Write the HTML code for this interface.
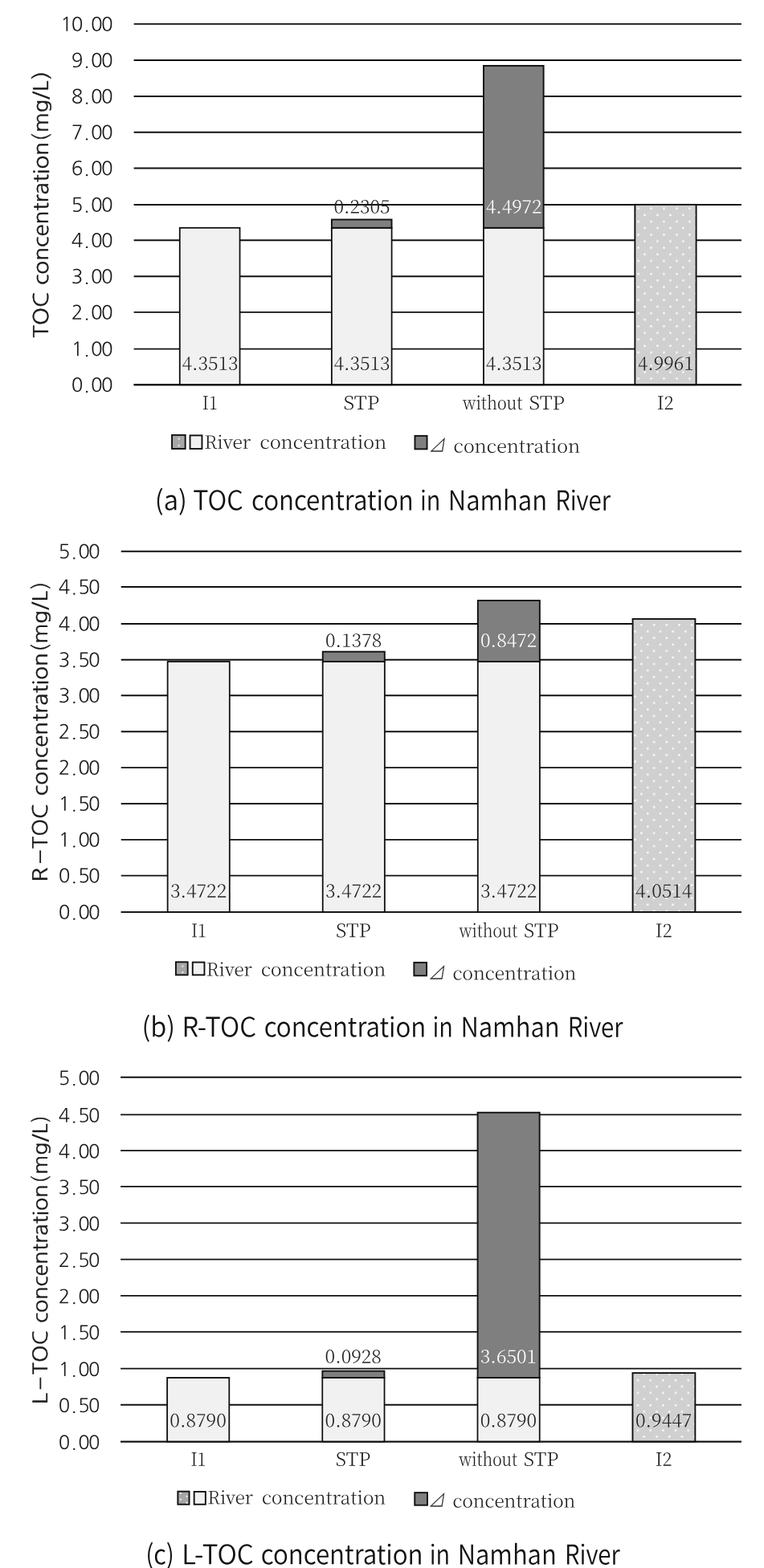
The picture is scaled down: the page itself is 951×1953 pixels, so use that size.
<!DOCTYPE html>
<html lang="en"><head><meta charset="utf-8"><title>TOC concentration in Namhan River</title>
<style>html,body{margin:0;padding:0;background:#fff}svg{display:block}text{white-space:pre;text-rendering:geometricPrecision}</style></head>
<body><svg width="951" height="1953" viewBox="0 0 951 1953">
<rect width="951" height="1953" fill="#fff"/>
<defs>
<pattern id="dotsa" patternUnits="userSpaceOnUse" x="793.25" y="258.35" width="15.95" height="16.3"><rect x="0" y="0" width="15.95" height="16.3" fill="#d0d0d0"/><rect x="0.2" y="0.2" width="2.3" height="2.3" fill="#fff"/><rect x="8.17" y="8.35" width="2.3" height="2.3" fill="#fff"/></pattern>
<pattern id="dotsb" patternUnits="userSpaceOnUse" x="797.05" y="777.05" width="15.7" height="16.2"><rect x="0" y="0" width="15.7" height="16.2" fill="#d0d0d0"/><rect x="0.2" y="0.2" width="2.3" height="2.3" fill="#fff"/><rect x="8.05" y="8.30" width="2.3" height="2.3" fill="#fff"/></pattern>
<pattern id="dotsc" patternUnits="userSpaceOnUse" x="792.65" y="1717.85" width="15.7" height="15.6"><rect x="0" y="0" width="15.7" height="15.6" fill="#d0d0d0"/><rect x="0.2" y="0.2" width="2.3" height="2.3" fill="#fff"/><rect x="8.05" y="8.00" width="2.3" height="2.3" fill="#fff"/></pattern>
</defs>
<g id="chart-a">
<line x1="166.60" x2="922.90" y1="29.90" y2="29.90" stroke="#101010" stroke-width="1.9"/>
<text transform="rotate(0.05 139.4 38.70)" x="75.30 88.65 104.35 113.00 125.90" y="38.70" font-family="NanumGothic, 'Liberation Sans', sans-serif" font-size="24.2" fill="#1a1a1a">10.00</text>
<line x1="166.60" x2="922.90" y1="75.00" y2="75.00" stroke="#101010" stroke-width="1.9"/>
<text transform="rotate(0.05 139.4 83.80)" x="88.65 104.35 113.00 125.90" y="83.80" font-family="NanumGothic, 'Liberation Sans', sans-serif" font-size="24.2" fill="#1a1a1a">9.00</text>
<line x1="166.60" x2="922.90" y1="120.00" y2="120.00" stroke="#101010" stroke-width="1.9"/>
<text transform="rotate(0.05 139.4 128.80)" x="88.65 104.35 113.00 125.90" y="128.80" font-family="NanumGothic, 'Liberation Sans', sans-serif" font-size="24.2" fill="#1a1a1a">8.00</text>
<line x1="166.60" x2="922.90" y1="164.80" y2="164.80" stroke="#101010" stroke-width="1.9"/>
<text transform="rotate(0.05 139.4 173.60)" x="88.65 104.35 113.00 125.90" y="173.60" font-family="NanumGothic, 'Liberation Sans', sans-serif" font-size="24.2" fill="#1a1a1a">7.00</text>
<line x1="166.60" x2="922.90" y1="209.50" y2="209.50" stroke="#101010" stroke-width="1.9"/>
<text transform="rotate(0.05 139.4 218.30)" x="88.65 104.35 113.00 125.90" y="218.30" font-family="NanumGothic, 'Liberation Sans', sans-serif" font-size="24.2" fill="#1a1a1a">6.00</text>
<line x1="166.60" x2="922.90" y1="255.00" y2="255.00" stroke="#101010" stroke-width="1.9"/>
<text transform="rotate(0.05 139.4 263.80)" x="88.65 104.35 113.00 125.90" y="263.80" font-family="NanumGothic, 'Liberation Sans', sans-serif" font-size="24.2" fill="#1a1a1a">5.00</text>
<line x1="166.60" x2="922.90" y1="299.20" y2="299.20" stroke="#101010" stroke-width="1.9"/>
<text transform="rotate(0.05 139.4 308.00)" x="88.65 104.35 113.00 125.90" y="308.00" font-family="NanumGothic, 'Liberation Sans', sans-serif" font-size="24.2" fill="#1a1a1a">4.00</text>
<line x1="166.60" x2="922.90" y1="344.20" y2="344.20" stroke="#101010" stroke-width="1.9"/>
<text transform="rotate(0.05 139.4 353.00)" x="88.65 104.35 113.00 125.90" y="353.00" font-family="NanumGothic, 'Liberation Sans', sans-serif" font-size="24.2" fill="#1a1a1a">3.00</text>
<line x1="166.60" x2="922.90" y1="388.90" y2="388.90" stroke="#101010" stroke-width="1.9"/>
<text transform="rotate(0.05 139.4 397.70)" x="88.65 104.35 113.00 125.90" y="397.70" font-family="NanumGothic, 'Liberation Sans', sans-serif" font-size="24.2" fill="#1a1a1a">2.00</text>
<line x1="166.60" x2="922.90" y1="434.60" y2="434.60" stroke="#101010" stroke-width="1.9"/>
<text transform="rotate(0.05 139.4 443.40)" x="88.65 104.35 113.00 125.90" y="443.40" font-family="NanumGothic, 'Liberation Sans', sans-serif" font-size="24.2" fill="#1a1a1a">1.00</text>
<line x1="166.60" x2="922.90" y1="479.20" y2="479.20" stroke="#101010" stroke-width="1.9"/>
<text transform="rotate(0.05 139.4 488.00)" x="88.65 104.35 113.00 125.90" y="488.00" font-family="NanumGothic, 'Liberation Sans', sans-serif" font-size="24.2" fill="#1a1a1a">0.00</text>
<rect x="223.82" y="283.83" width="74.63" height="195.37" fill="#f1f1f1" stroke="#101010" stroke-width="1.9"/>
<rect x="225.32" y="285.33" width="71.63" height="192.37" fill="none" stroke="#fff" stroke-opacity="0.6" stroke-width="1"/>
<text transform="rotate(0.05 261.1 460.8)" x="226.54" y="460.80" font-family="'Noto Serif CJK SC', 'Liberation Serif', serif" font-weight="300" font-size="23" fill="#222" textLength="69.91" lengthAdjust="spacingAndGlyphs">4.3513</text>
<rect x="412.90" y="283.83" width="74.63" height="195.37" fill="#f1f1f1" stroke="#101010" stroke-width="1.9"/>
<rect x="414.40" y="285.33" width="71.63" height="192.37" fill="none" stroke="#fff" stroke-opacity="0.6" stroke-width="1"/>
<rect x="412.90" y="273.48" width="74.63" height="10.35" fill="#7f7f7f" stroke="#101010" stroke-width="1.9"/>
<text transform="rotate(0.05 450.2 265.4)" x="415.61" y="265.43" font-family="'Noto Serif CJK SC', 'Liberation Serif', serif" font-weight="300" font-size="23" fill="#222" textLength="69.91" lengthAdjust="spacingAndGlyphs">0.2305</text>
<text transform="rotate(0.05 450.2 460.8)" x="415.61" y="460.80" font-family="'Noto Serif CJK SC', 'Liberation Serif', serif" font-weight="300" font-size="23" fill="#222" textLength="69.91" lengthAdjust="spacingAndGlyphs">4.3513</text>
<rect x="601.97" y="283.83" width="74.63" height="195.37" fill="#f1f1f1" stroke="#101010" stroke-width="1.9"/>
<rect x="603.47" y="285.33" width="71.63" height="192.37" fill="none" stroke="#fff" stroke-opacity="0.6" stroke-width="1"/>
<rect x="601.97" y="81.90" width="74.63" height="201.92" fill="#7f7f7f" stroke="#101010" stroke-width="1.9"/>
<text transform="rotate(0.05 639.3 265.4)" x="604.69" y="265.43" font-family="'Noto Serif CJK SC', 'Liberation Serif', serif" font-weight="300" font-size="23" fill="#ffffff" textLength="69.91" lengthAdjust="spacingAndGlyphs">4.4972</text>
<text transform="rotate(0.05 639.3 460.8)" x="604.69" y="460.80" font-family="'Noto Serif CJK SC', 'Liberation Serif', serif" font-weight="300" font-size="23" fill="#222" textLength="69.91" lengthAdjust="spacingAndGlyphs">4.3513</text>
<rect x="790.35" y="254.88" width="76.23" height="224.32" fill="url(#dotsa)" stroke="#101010" stroke-width="1.9"/>
<text transform="rotate(0.05 828.4 460.8)" x="793.76" y="460.80" font-family="'Noto Serif CJK SC', 'Liberation Serif', serif" font-weight="300" font-size="23" fill="#222" textLength="69.91" lengthAdjust="spacingAndGlyphs">4.9961</text>
<line x1="166.60" x2="922.90" y1="479.20" y2="479.20" stroke="#101010" stroke-width="1.9"/>
<text transform="rotate(0.05 261.1 510.1)" y="510.10" font-family="'Noto Serif CJK SC', 'Liberation Serif', serif" font-weight="300" font-size="23" fill="#1a1a1a"><tspan x="251.85" textLength="19.15" lengthAdjust="spacingAndGlyphs">I1</tspan></text>
<text transform="rotate(0.05 450.2 510.1)" y="510.10" font-family="'Noto Serif CJK SC', 'Liberation Serif', serif" font-weight="300" font-size="23" fill="#1a1a1a"><tspan x="427.45" textLength="44.71" lengthAdjust="spacingAndGlyphs">STP</tspan></text>
<text transform="rotate(0.05 639.3 510.1)" y="510.10" font-family="'Noto Serif CJK SC', 'Liberation Serif', serif" font-weight="300" font-size="23" fill="#1a1a1a"><tspan x="576.04" textLength="74.30" lengthAdjust="spacingAndGlyphs">without</tspan> <tspan x="658.40" textLength="44.38" lengthAdjust="spacingAndGlyphs">STP</tspan></text>
<text transform="rotate(0.05 828.4 510.1)" y="510.10" font-family="'Noto Serif CJK SC', 'Liberation Serif', serif" font-weight="300" font-size="23" fill="#1a1a1a"><tspan x="817.64" textLength="21.11" lengthAdjust="spacingAndGlyphs">I2</tspan></text>
<text transform="translate(60.10,420.80) rotate(-90)" y="0" font-family="NanumGothic, 'Liberation Sans', sans-serif" font-weight="400" font-size="25.5" fill="#1a1a1a" stroke="#1a1a1a" stroke-width="0.35"><tspan x="0.00" textLength="56.94" lengthAdjust="spacingAndGlyphs">TOC</tspan> <tspan x="65.71" textLength="178.23" lengthAdjust="spacingAndGlyphs">concentration</tspan><tspan x="244.75" textLength="9.73" lengthAdjust="spacingAndGlyphs">(</tspan><tspan x="255.87" textLength="64.31" lengthAdjust="spacingAndGlyphs">mg/L</tspan><tspan x="321.78" textLength="10.35" lengthAdjust="spacingAndGlyphs">)</tspan></text>
<rect x="214.05" y="541.85" width="16.60" height="17.10" fill="#a6a6a6" stroke="#101010" stroke-width="1.9"/>
<rect x="221.75" y="545.55" width="1.9" height="1.9" fill="#f6f6f6"/>
<rect x="221.75" y="553.75" width="1.9" height="1.9" fill="#f6f6f6"/>
<rect x="236.55" y="542.35" width="14.90" height="16.60" fill="#f1f1f1" stroke="#101010" stroke-width="1.9"/>
<text transform="rotate(0.05 367.8 558.8)" y="558.80" font-family="'Noto Serif CJK SC', 'Liberation Serif', serif" font-weight="300" font-size="22.5" fill="#1a1a1a"><tspan x="254.19" textLength="57.97" lengthAdjust="spacingAndGlyphs">River</tspan> <tspan x="323.57" textLength="157.70" lengthAdjust="spacingAndGlyphs">concentration</tspan></text>
<rect x="516.45" y="542.85" width="15.10" height="16.50" fill="#7f7f7f" stroke="#101010" stroke-width="1.9"/>
<text transform="translate(533.20,563.10) skewX(-9) scale(0.9,1)" x="0" y="0" font-family="'Noto Serif CJK SC', 'Liberation Serif', serif" font-weight="300" font-size="22.8" fill="#1a1a1a" stroke="#1a1a1a" stroke-width="0.3">⊿</text>
<text transform="rotate(0.05 643.5 563.7)" y="563.70" font-family="'Noto Serif CJK SC', 'Liberation Serif', serif" font-weight="300" font-size="22.5" fill="#1a1a1a"><tspan x="564.57" textLength="157.60" lengthAdjust="spacingAndGlyphs">concentration</tspan></text>
<text transform="rotate(0.05 478.0 635.4)" y="635.40" font-family="'Noto Sans CJK KR', 'Liberation Sans', sans-serif" font-weight="350" font-size="33.7" fill="#111"><tspan x="192.78" textLength="40.05" lengthAdjust="spacingAndGlyphs">(a)</tspan> <tspan x="240.24" textLength="62.42" lengthAdjust="spacingAndGlyphs">TOC</tspan> <tspan x="313.07" textLength="201.65" lengthAdjust="spacingAndGlyphs">concentration</tspan> <tspan x="522.98" textLength="25.33" lengthAdjust="spacingAndGlyphs">in</tspan> <tspan x="557.83" textLength="123.12" lengthAdjust="spacingAndGlyphs">Namhan</tspan> <tspan x="691.17" textLength="68.71" lengthAdjust="spacingAndGlyphs">River</tspan></text>
</g>
<g id="chart-b">
<line x1="150.70" x2="922.90" y1="686.80" y2="686.80" stroke="#101010" stroke-width="1.9"/>
<text transform="rotate(0.05 123.6 695.60)" x="72.85 88.55 97.20 110.10" y="695.60" font-family="NanumGothic, 'Liberation Sans', sans-serif" font-size="24.2" fill="#1a1a1a">5.00</text>
<line x1="150.70" x2="922.90" y1="731.00" y2="731.00" stroke="#101010" stroke-width="1.9"/>
<text transform="rotate(0.05 123.6 739.80)" x="72.85 88.55 97.20 110.10" y="739.80" font-family="NanumGothic, 'Liberation Sans', sans-serif" font-size="24.2" fill="#1a1a1a">4.50</text>
<line x1="150.70" x2="922.90" y1="776.95" y2="776.95" stroke="#101010" stroke-width="1.9"/>
<text transform="rotate(0.05 123.6 785.75)" x="72.85 88.55 97.20 110.10" y="785.75" font-family="NanumGothic, 'Liberation Sans', sans-serif" font-size="24.2" fill="#1a1a1a">4.00</text>
<line x1="150.70" x2="922.90" y1="821.80" y2="821.80" stroke="#101010" stroke-width="1.9"/>
<text transform="rotate(0.05 123.6 830.60)" x="72.85 88.55 97.20 110.10" y="830.60" font-family="NanumGothic, 'Liberation Sans', sans-serif" font-size="24.2" fill="#1a1a1a">3.50</text>
<line x1="150.70" x2="922.90" y1="866.30" y2="866.30" stroke="#101010" stroke-width="1.9"/>
<text transform="rotate(0.05 123.6 875.10)" x="72.85 88.55 97.20 110.10" y="875.10" font-family="NanumGothic, 'Liberation Sans', sans-serif" font-size="24.2" fill="#1a1a1a">3.00</text>
<line x1="150.70" x2="922.90" y1="911.20" y2="911.20" stroke="#101010" stroke-width="1.9"/>
<text transform="rotate(0.05 123.6 920.00)" x="72.85 88.55 97.20 110.10" y="920.00" font-family="NanumGothic, 'Liberation Sans', sans-serif" font-size="24.2" fill="#1a1a1a">2.50</text>
<line x1="150.70" x2="922.90" y1="956.10" y2="956.10" stroke="#101010" stroke-width="1.9"/>
<text transform="rotate(0.05 123.6 964.90)" x="72.85 88.55 97.20 110.10" y="964.90" font-family="NanumGothic, 'Liberation Sans', sans-serif" font-size="24.2" fill="#1a1a1a">2.00</text>
<line x1="150.70" x2="922.90" y1="1001.00" y2="1001.00" stroke="#101010" stroke-width="1.9"/>
<text transform="rotate(0.05 123.6 1009.80)" x="72.85 88.55 97.20 110.10" y="1009.80" font-family="NanumGothic, 'Liberation Sans', sans-serif" font-size="24.2" fill="#1a1a1a">1.50</text>
<line x1="150.70" x2="922.90" y1="1045.85" y2="1045.85" stroke="#101010" stroke-width="1.9"/>
<text transform="rotate(0.05 123.6 1054.65)" x="72.85 88.55 97.20 110.10" y="1054.65" font-family="NanumGothic, 'Liberation Sans', sans-serif" font-size="24.2" fill="#1a1a1a">1.00</text>
<line x1="150.70" x2="922.90" y1="1090.60" y2="1090.60" stroke="#101010" stroke-width="1.9"/>
<text transform="rotate(0.05 123.6 1099.40)" x="72.85 88.55 97.20 110.10" y="1099.40" font-family="NanumGothic, 'Liberation Sans', sans-serif" font-size="24.2" fill="#1a1a1a">0.50</text>
<line x1="150.70" x2="922.90" y1="1136.10" y2="1136.10" stroke="#101010" stroke-width="1.9"/>
<text transform="rotate(0.05 123.6 1144.90)" x="72.85 88.55 97.20 110.10" y="1144.90" font-family="NanumGothic, 'Liberation Sans', sans-serif" font-size="24.2" fill="#1a1a1a">0.00</text>
<rect x="208.71" y="824.09" width="77.02" height="312.01" fill="#f1f1f1" stroke="#101010" stroke-width="1.9"/>
<rect x="210.21" y="825.59" width="74.02" height="309.01" fill="none" stroke="#fff" stroke-opacity="0.6" stroke-width="1"/>
<text transform="rotate(0.05 247.2 1117.7)" x="211.97" y="1117.70" font-family="'Noto Serif CJK SC', 'Liberation Serif', serif" font-weight="300" font-size="23" fill="#222" textLength="70.22" lengthAdjust="spacingAndGlyphs">3.4722</text>
<rect x="401.77" y="824.09" width="77.02" height="312.01" fill="#f1f1f1" stroke="#101010" stroke-width="1.9"/>
<rect x="403.27" y="825.59" width="74.02" height="309.01" fill="none" stroke="#fff" stroke-opacity="0.6" stroke-width="1"/>
<rect x="401.77" y="811.71" width="77.02" height="12.38" fill="#7f7f7f" stroke="#101010" stroke-width="1.9"/>
<text transform="rotate(0.05 440.3 805.7)" x="405.02" y="805.69" font-family="'Noto Serif CJK SC', 'Liberation Serif', serif" font-weight="300" font-size="23" fill="#222" textLength="70.22" lengthAdjust="spacingAndGlyphs">0.1378</text>
<text transform="rotate(0.05 440.3 1117.7)" x="405.02" y="1117.70" font-family="'Noto Serif CJK SC', 'Liberation Serif', serif" font-weight="300" font-size="23" fill="#222" textLength="70.22" lengthAdjust="spacingAndGlyphs">3.4722</text>
<rect x="594.82" y="824.09" width="77.02" height="312.01" fill="#f1f1f1" stroke="#101010" stroke-width="1.9"/>
<rect x="596.32" y="825.59" width="74.02" height="309.01" fill="none" stroke="#fff" stroke-opacity="0.6" stroke-width="1"/>
<rect x="594.82" y="747.96" width="77.02" height="76.13" fill="#7f7f7f" stroke="#101010" stroke-width="1.9"/>
<text transform="rotate(0.05 633.3 805.7)" x="598.07" y="805.69" font-family="'Noto Serif CJK SC', 'Liberation Serif', serif" font-weight="300" font-size="23" fill="#ffffff" textLength="70.22" lengthAdjust="spacingAndGlyphs">0.8472</text>
<text transform="rotate(0.05 633.3 1117.7)" x="598.07" y="1117.70" font-family="'Noto Serif CJK SC', 'Liberation Serif', serif" font-weight="300" font-size="23" fill="#222" textLength="70.22" lengthAdjust="spacingAndGlyphs">3.4722</text>
<rect x="787.57" y="770.94" width="77.82" height="365.16" fill="url(#dotsb)" stroke="#101010" stroke-width="1.9"/>
<text transform="rotate(0.05 826.4 1117.7)" x="791.12" y="1117.70" font-family="'Noto Serif CJK SC', 'Liberation Serif', serif" font-weight="300" font-size="23" fill="#222" textLength="70.22" lengthAdjust="spacingAndGlyphs">4.0514</text>
<line x1="150.70" x2="922.90" y1="1136.10" y2="1136.10" stroke="#101010" stroke-width="1.9"/>
<text transform="rotate(0.05 247.2 1167.3)" y="1167.30" font-family="'Noto Serif CJK SC', 'Liberation Serif', serif" font-weight="300" font-size="23" fill="#1a1a1a"><tspan x="237.94" textLength="19.15" lengthAdjust="spacingAndGlyphs">I1</tspan></text>
<text transform="rotate(0.05 440.3 1167.3)" y="1167.30" font-family="'Noto Serif CJK SC', 'Liberation Serif', serif" font-weight="300" font-size="23" fill="#1a1a1a"><tspan x="418.04" textLength="43.68" lengthAdjust="spacingAndGlyphs">STP</tspan></text>
<text transform="rotate(0.05 633.3 1167.3)" y="1167.30" font-family="'Noto Serif CJK SC', 'Liberation Serif', serif" font-weight="300" font-size="23" fill="#1a1a1a"><tspan x="571.43" textLength="72.72" lengthAdjust="spacingAndGlyphs">without</tspan> <tspan x="652.03" textLength="43.44" lengthAdjust="spacingAndGlyphs">STP</tspan></text>
<text transform="rotate(0.05 826.4 1167.3)" y="1167.30" font-family="'Noto Serif CJK SC', 'Liberation Serif', serif" font-weight="300" font-size="23" fill="#1a1a1a"><tspan x="815.76" textLength="20.90" lengthAdjust="spacingAndGlyphs">I2</tspan></text>
<text transform="translate(59.00,1096.30) rotate(-90)" y="0" font-family="NanumGothic, 'Liberation Sans', sans-serif" font-weight="400" font-size="25.5" fill="#1a1a1a" stroke="#1a1a1a" stroke-width="0.35"><tspan x="-2.34" textLength="18.56" lengthAdjust="spacingAndGlyphs">R</tspan><tspan x="18.16" textLength="21.71" lengthAdjust="spacingAndGlyphs" dy="0.5" stroke="none">-</tspan><tspan x="39.30" textLength="55.71" lengthAdjust="spacingAndGlyphs" dy="-0.5">TOC</tspan> <tspan x="105.01" textLength="178.12" lengthAdjust="spacingAndGlyphs">concentration</tspan><tspan x="284.60" textLength="9.27" lengthAdjust="spacingAndGlyphs">(</tspan><tspan x="294.53" textLength="65.64" lengthAdjust="spacingAndGlyphs">mg/L</tspan><tspan x="362.33" textLength="8.96" lengthAdjust="spacingAndGlyphs">)</tspan></text>
<rect x="218.90" y="1198.25" width="14.75" height="16.10" fill="#a6a6a6" stroke="#101010" stroke-width="1.9"/>
<rect x="226.45" y="1202.55" width="1.9" height="1.9" fill="#f6f6f6"/>
<rect x="226.45" y="1210.15" width="1.9" height="1.9" fill="#f6f6f6"/>
<rect x="239.75" y="1198.55" width="14.70" height="15.80" fill="#f1f1f1" stroke="#101010" stroke-width="1.9"/>
<text transform="rotate(0.05 368.5 1215.5)" y="1215.50" font-family="'Noto Serif CJK SC', 'Liberation Serif', serif" font-weight="300" font-size="22.5" fill="#1a1a1a"><tspan x="256.70" textLength="57.05" lengthAdjust="spacingAndGlyphs">River</tspan> <tspan x="324.98" textLength="155.18" lengthAdjust="spacingAndGlyphs">concentration</tspan></text>
<rect x="515.35" y="1198.85" width="15.70" height="16.40" fill="#7f7f7f" stroke="#101010" stroke-width="1.9"/>
<text transform="translate(532.70,1220.10) skewX(-9) scale(0.9,1)" x="0" y="0" font-family="'Noto Serif CJK SC', 'Liberation Serif', serif" font-weight="300" font-size="22.8" fill="#1a1a1a" stroke="#1a1a1a" stroke-width="0.3">⊿</text>
<text transform="rotate(0.05 640.5 1220.3)" y="1220.30" font-family="'Noto Serif CJK SC', 'Liberation Serif', serif" font-weight="300" font-size="22.5" fill="#1a1a1a"><tspan x="563.49" textLength="153.86" lengthAdjust="spacingAndGlyphs">concentration</tspan></text>
<text transform="rotate(0.05 477.7 1291.4)" y="1291.40" font-family="'Noto Sans CJK KR', 'Liberation Sans', sans-serif" font-weight="350" font-size="33.7" fill="#111"><tspan x="176.61" textLength="41.49" lengthAdjust="spacingAndGlyphs">(b)</tspan> <tspan x="226.38" textLength="92.60" lengthAdjust="spacingAndGlyphs">R-TOC</tspan> <tspan x="328.67" textLength="201.65" lengthAdjust="spacingAndGlyphs">concentration</tspan> <tspan x="538.58" textLength="25.33" lengthAdjust="spacingAndGlyphs">in</tspan> <tspan x="573.43" textLength="123.12" lengthAdjust="spacingAndGlyphs">Namhan</tspan> <tspan x="706.77" textLength="68.71" lengthAdjust="spacingAndGlyphs">River</tspan></text>
</g>
<g id="chart-c">
<line x1="150.10" x2="922.90" y1="1341.80" y2="1341.80" stroke="#101010" stroke-width="1.9"/>
<text transform="rotate(0.05 123.6 1351.20)" x="72.85 88.55 97.20 110.10" y="1351.20" font-family="NanumGothic, 'Liberation Sans', sans-serif" font-size="23.8" fill="#1a1a1a">5.00</text>
<line x1="150.10" x2="922.90" y1="1388.35" y2="1388.35" stroke="#101010" stroke-width="1.9"/>
<text transform="rotate(0.05 123.6 1397.75)" x="72.85 88.55 97.20 110.10" y="1397.75" font-family="NanumGothic, 'Liberation Sans', sans-serif" font-size="23.8" fill="#1a1a1a">4.50</text>
<line x1="150.10" x2="922.90" y1="1433.10" y2="1433.10" stroke="#101010" stroke-width="1.9"/>
<text transform="rotate(0.05 123.6 1442.50)" x="72.85 88.55 97.20 110.10" y="1442.50" font-family="NanumGothic, 'Liberation Sans', sans-serif" font-size="23.8" fill="#1a1a1a">4.00</text>
<line x1="150.10" x2="922.90" y1="1477.90" y2="1477.90" stroke="#101010" stroke-width="1.9"/>
<text transform="rotate(0.05 123.6 1487.30)" x="72.85 88.55 97.20 110.10" y="1487.30" font-family="NanumGothic, 'Liberation Sans', sans-serif" font-size="23.8" fill="#1a1a1a">3.50</text>
<line x1="150.10" x2="922.90" y1="1523.40" y2="1523.40" stroke="#101010" stroke-width="1.9"/>
<text transform="rotate(0.05 123.6 1532.80)" x="72.85 88.55 97.20 110.10" y="1532.80" font-family="NanumGothic, 'Liberation Sans', sans-serif" font-size="23.8" fill="#1a1a1a">3.00</text>
<line x1="150.10" x2="922.90" y1="1568.60" y2="1568.60" stroke="#101010" stroke-width="1.9"/>
<text transform="rotate(0.05 123.6 1578.00)" x="72.85 88.55 97.20 110.10" y="1578.00" font-family="NanumGothic, 'Liberation Sans', sans-serif" font-size="23.8" fill="#1a1a1a">2.50</text>
<line x1="150.10" x2="922.90" y1="1613.90" y2="1613.90" stroke="#101010" stroke-width="1.9"/>
<text transform="rotate(0.05 123.6 1623.30)" x="72.85 88.55 97.20 110.10" y="1623.30" font-family="NanumGothic, 'Liberation Sans', sans-serif" font-size="23.8" fill="#1a1a1a">2.00</text>
<line x1="150.10" x2="922.90" y1="1658.90" y2="1658.90" stroke="#101010" stroke-width="1.9"/>
<text transform="rotate(0.05 123.6 1668.30)" x="72.85 88.55 97.20 110.10" y="1668.30" font-family="NanumGothic, 'Liberation Sans', sans-serif" font-size="23.8" fill="#1a1a1a">1.50</text>
<line x1="150.10" x2="922.90" y1="1704.60" y2="1704.60" stroke="#101010" stroke-width="1.9"/>
<text transform="rotate(0.05 123.6 1714.00)" x="72.85 88.55 97.20 110.10" y="1714.00" font-family="NanumGothic, 'Liberation Sans', sans-serif" font-size="23.8" fill="#1a1a1a">1.00</text>
<line x1="150.10" x2="922.90" y1="1749.70" y2="1749.70" stroke="#101010" stroke-width="1.9"/>
<text transform="rotate(0.05 123.6 1759.10)" x="72.85 88.55 97.20 110.10" y="1759.10" font-family="NanumGothic, 'Liberation Sans', sans-serif" font-size="23.8" fill="#1a1a1a">0.50</text>
<line x1="150.10" x2="922.90" y1="1795.60" y2="1795.60" stroke="#101010" stroke-width="1.9"/>
<text transform="rotate(0.05 123.6 1805.00)" x="72.85 88.55 97.20 110.10" y="1805.00" font-family="NanumGothic, 'Liberation Sans', sans-serif" font-size="23.8" fill="#1a1a1a">0.00</text>
<rect x="208.16" y="1716.05" width="77.08" height="79.55" fill="#f1f1f1" stroke="#101010" stroke-width="1.9"/>
<rect x="209.66" y="1717.55" width="74.08" height="76.55" fill="none" stroke="#fff" stroke-opacity="0.6" stroke-width="1"/>
<text transform="rotate(0.05 246.7 1777.2)" x="211.39" y="1777.20" font-family="'Noto Serif CJK SC', 'Liberation Serif', serif" font-weight="300" font-size="23" fill="#222" textLength="70.32" lengthAdjust="spacingAndGlyphs">0.8790</text>
<rect x="401.36" y="1716.05" width="77.08" height="79.55" fill="#f1f1f1" stroke="#101010" stroke-width="1.9"/>
<rect x="402.86" y="1717.55" width="74.08" height="76.55" fill="none" stroke="#fff" stroke-opacity="0.6" stroke-width="1"/>
<rect x="401.36" y="1707.65" width="77.08" height="8.40" fill="#7f7f7f" stroke="#101010" stroke-width="1.9"/>
<text transform="rotate(0.05 439.9 1697.7)" x="404.59" y="1697.65" font-family="'Noto Serif CJK SC', 'Liberation Serif', serif" font-weight="300" font-size="23" fill="#222" textLength="70.32" lengthAdjust="spacingAndGlyphs">0.0928</text>
<text transform="rotate(0.05 439.9 1777.2)" x="404.59" y="1777.20" font-family="'Noto Serif CJK SC', 'Liberation Serif', serif" font-weight="300" font-size="23" fill="#222" textLength="70.32" lengthAdjust="spacingAndGlyphs">0.8790</text>
<rect x="594.56" y="1716.05" width="77.08" height="79.55" fill="#f1f1f1" stroke="#101010" stroke-width="1.9"/>
<rect x="596.06" y="1717.55" width="74.08" height="76.55" fill="none" stroke="#fff" stroke-opacity="0.6" stroke-width="1"/>
<rect x="594.56" y="1385.72" width="77.08" height="330.33" fill="#7f7f7f" stroke="#101010" stroke-width="1.9"/>
<text transform="rotate(0.05 633.1 1697.7)" x="597.79" y="1697.65" font-family="'Noto Serif CJK SC', 'Liberation Serif', serif" font-weight="300" font-size="23" fill="#ffffff" textLength="70.32" lengthAdjust="spacingAndGlyphs">3.6501</text>
<text transform="rotate(0.05 633.1 1777.2)" x="597.79" y="1777.20" font-family="'Noto Serif CJK SC', 'Liberation Serif', serif" font-weight="300" font-size="23" fill="#222" textLength="70.32" lengthAdjust="spacingAndGlyphs">0.8790</text>
<rect x="787.46" y="1710.10" width="77.88" height="85.50" fill="url(#dotsc)" stroke="#101010" stroke-width="1.9"/>
<text transform="rotate(0.05 826.3 1777.2)" x="790.99" y="1777.20" font-family="'Noto Serif CJK SC', 'Liberation Serif', serif" font-weight="300" font-size="23" fill="#222" textLength="70.32" lengthAdjust="spacingAndGlyphs">0.9447</text>
<line x1="150.10" x2="922.90" y1="1795.60" y2="1795.60" stroke="#101010" stroke-width="1.9"/>
<text transform="rotate(0.05 246.7 1825.7)" y="1825.70" font-family="'Noto Serif CJK SC', 'Liberation Serif', serif" font-weight="300" font-size="23" fill="#1a1a1a"><tspan x="237.42" textLength="19.15" lengthAdjust="spacingAndGlyphs">I1</tspan></text>
<text transform="rotate(0.05 439.9 1825.7)" y="1825.70" font-family="'Noto Serif CJK SC', 'Liberation Serif', serif" font-weight="300" font-size="23" fill="#1a1a1a"><tspan x="417.88" textLength="43.26" lengthAdjust="spacingAndGlyphs">STP</tspan></text>
<text transform="rotate(0.05 633.1 1825.7)" y="1825.70" font-family="'Noto Serif CJK SC', 'Liberation Serif', serif" font-weight="300" font-size="23" fill="#1a1a1a"><tspan x="571.15" textLength="72.78" lengthAdjust="spacingAndGlyphs">without</tspan> <tspan x="651.82" textLength="43.47" lengthAdjust="spacingAndGlyphs">STP</tspan></text>
<text transform="rotate(0.05 826.3 1825.7)" y="1825.70" font-family="'Noto Serif CJK SC', 'Liberation Serif', serif" font-weight="300" font-size="23" fill="#1a1a1a"><tspan x="815.74" textLength="20.79" lengthAdjust="spacingAndGlyphs">I2</tspan></text>
<text transform="translate(59.00,1747.30) rotate(-90)" y="0" font-family="NanumGothic, 'Liberation Sans', sans-serif" font-weight="400" font-size="25.0" fill="#1a1a1a" stroke="#1a1a1a" stroke-width="0.35"><tspan x="-2.46" textLength="14.89" lengthAdjust="spacingAndGlyphs">L</tspan><tspan x="13.77" textLength="20.23" lengthAdjust="spacingAndGlyphs" dy="0.5" stroke="none">-</tspan><tspan x="35.30" textLength="54.81" lengthAdjust="spacingAndGlyphs" dy="-0.5">TOC</tspan> <tspan x="99.32" textLength="172.57" lengthAdjust="spacingAndGlyphs">concentration</tspan><tspan x="273.60" textLength="9.08" lengthAdjust="spacingAndGlyphs">(</tspan><tspan x="284.26" textLength="63.39" lengthAdjust="spacingAndGlyphs">mg/L</tspan><tspan x="349.20" textLength="8.17" lengthAdjust="spacingAndGlyphs">)</tspan></text>
<rect x="221.35" y="1857.65" width="14.20" height="16.10" fill="#a6a6a6" stroke="#101010" stroke-width="1.9"/>
<rect x="223.95" y="1858.95" width="1.9" height="1.9" fill="#f6f6f6"/>
<rect x="231.65" y="1862.85" width="1.9" height="1.9" fill="#f6f6f6"/>
<rect x="223.95" y="1866.65" width="1.9" height="1.9" fill="#f6f6f6"/>
<rect x="231.65" y="1870.75" width="1.9" height="1.9" fill="#f6f6f6"/>
<rect x="241.65" y="1857.95" width="14.20" height="15.80" fill="#f1f1f1" stroke="#101010" stroke-width="1.9"/>
<text transform="rotate(0.05 369.2 1873.4)" y="1873.40" font-family="'Noto Serif CJK SC', 'Liberation Serif', serif" font-weight="300" font-size="22.5" fill="#1a1a1a"><tspan x="258.21" textLength="56.66" lengthAdjust="spacingAndGlyphs">River</tspan> <tspan x="326.02" textLength="154.13" lengthAdjust="spacingAndGlyphs">concentration</tspan></text>
<rect x="516.25" y="1859.15" width="15.70" height="15.60" fill="#7f7f7f" stroke="#101010" stroke-width="1.9"/>
<text transform="translate(532.70,1877.30) skewX(-9) scale(0.9,1)" x="0" y="0" font-family="'Noto Serif CJK SC', 'Liberation Serif', serif" font-weight="300" font-size="22.8" fill="#1a1a1a" stroke="#1a1a1a" stroke-width="0.3">⊿</text>
<text transform="rotate(0.05 640.0 1877.5)" y="1877.50" font-family="'Noto Serif CJK SC', 'Liberation Serif', serif" font-weight="300" font-size="22.5" fill="#1a1a1a"><tspan x="563.50" textLength="152.84" lengthAdjust="spacingAndGlyphs">concentration</tspan></text>
<text transform="rotate(0.05 478.0 1948.4)" y="1948.40" font-family="'Noto Sans CJK KR', 'Liberation Sans', sans-serif" font-weight="350" font-size="33.7" fill="#111"><tspan x="181.17" textLength="35.77" lengthAdjust="spacingAndGlyphs">(c)</tspan> <tspan x="226.36" textLength="89.39" lengthAdjust="spacingAndGlyphs">L-TOC</tspan> <tspan x="324.87" textLength="201.65" lengthAdjust="spacingAndGlyphs">concentration</tspan> <tspan x="534.78" textLength="25.33" lengthAdjust="spacingAndGlyphs">in</tspan> <tspan x="569.63" textLength="123.12" lengthAdjust="spacingAndGlyphs">Namhan</tspan> <tspan x="702.98" textLength="68.71" lengthAdjust="spacingAndGlyphs">River</tspan></text>
</g>
</svg></body></html>
